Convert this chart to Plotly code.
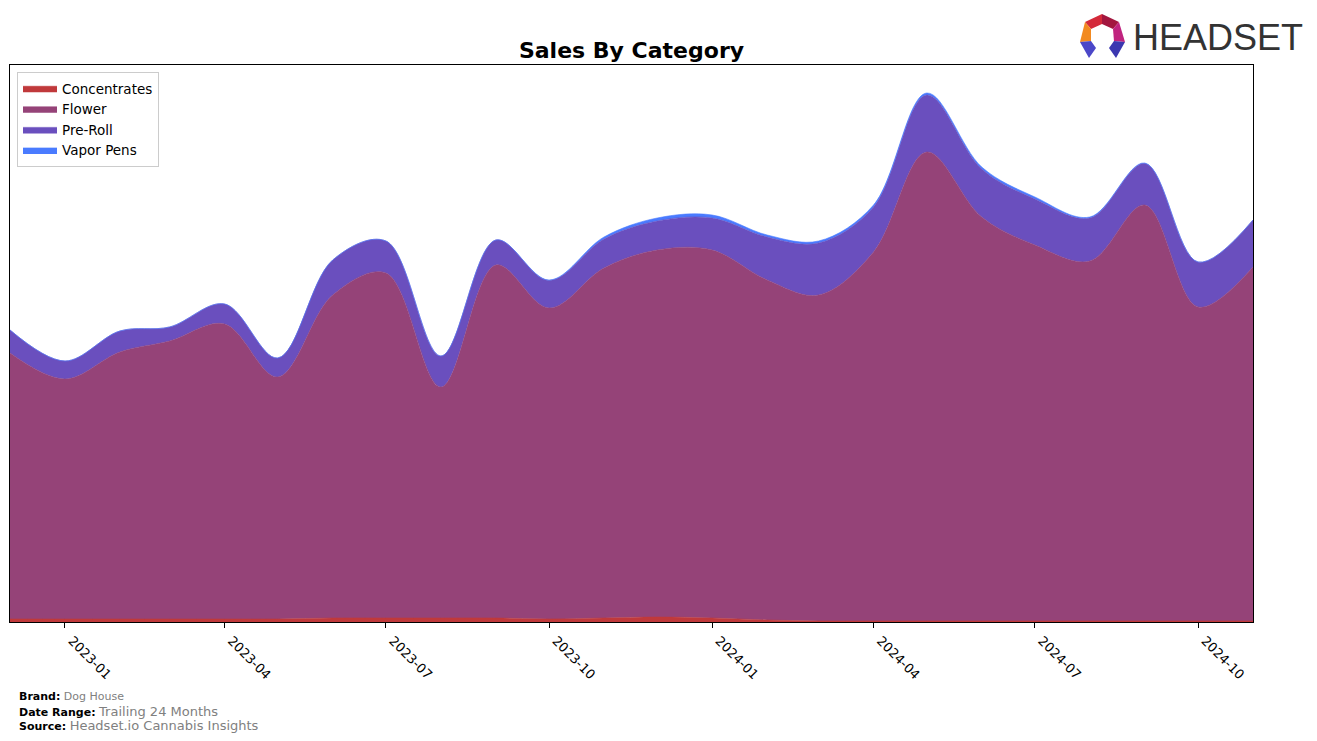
import plotly.graph_objects as go

months = ["2022-12-01", "2023-01-01", "2023-02-01", "2023-03-01", "2023-04-01", "2023-05-01",
          "2023-06-01", "2023-07-01", "2023-08-01", "2023-09-01", "2023-10-01", "2023-11-01",
          "2023-12-01", "2024-01-01", "2024-02-01", "2024-03-01", "2024-04-01", "2024-05-01",
          "2024-06-01", "2024-07-01", "2024-08-01", "2024-09-01", "2024-10-01", "2024-11-01"]

concentrates = [3000, 3000, 3000, 3000, 3000, 3000, 4000, 4000, 4000, 4000, 3000, 4000,
                5000, 4000, 2000, 1000, 1000, 1000, 1000, 1000, 1000, 1000, 1000, 1000]
flower = [266000, 240000, 267000, 278000, 295000, 242000, 323000, 345000, 231000, 353000, 311000, 350000,
          367000, 368000, 340000, 326000, 369000, 469000, 404000, 376000, 360000, 416000, 314000, 354000]
pre_roll = [23000, 18000, 21000, 14000, 20000, 19000, 35000, 32000, 31000, 25000, 27500, 29000,
            29000, 32000, 43000, 52000, 45000, 57000, 48000, 46000, 43000, 41500, 45000, 47000]
vapor_pens = [0, 0, 0, 0, 0, 0, 0, 0, 0, 0, 500, 2000,
              3000, 3000, 2000, 2000, 2000, 2000, 2000, 2000, 1000, 500, 0, 0]

series = [("Concentrates", concentrates, "#c0393b"),
          ("Flower", flower, "#954378"),
          ("Pre-Roll", pre_roll, "#6a4fbe"),
          ("Vapor Pens", vapor_pens, "#4a7bff")]

tick_vals = ["2023-01-01", "2023-04-01", "2023-07-01", "2023-10-01",
             "2024-01-01", "2024-04-01", "2024-07-01", "2024-10-01"]
tick_text = ["2023-01", "2023-04", "2023-07", "2023-10", "2024-01", "2024-04", "2024-07", "2024-10"]

fig = go.Figure()
for name, vals, col in series:
    fig.add_trace(go.Scatter(
        x=months, y=vals, name=name, mode="lines", stackgroup="one",
        line=dict(width=0.6, color=col, shape="spline", smoothing=1.0),
        fillcolor=col, hoverinfo="x+y+name"))

# page has an 8px body margin; figure is placed at (8, 8)
OFF = 8
W, H = 1317 - 2 * OFF, 741 - 2 * OFF
L, R, T, B = 10, 1253, 65, 622  # plot area in page pixels

def px(x):
    return (x - L) / (R - L)

def py(y):
    return (B - y) / (B - T)

fig.update_layout(
    width=W, height=H,
    margin=dict(l=L - OFF, r=W + OFF - R, t=T - OFF, b=H + OFF - B),
    paper_bgcolor="white", plot_bgcolor="white",
    font=dict(family="DejaVu Sans", color="black"),
    title=dict(text="<b>Sales By Category</b>", x=(631.5 - OFF) / W, xanchor="center",
               xref="container", yref="container",
               y=1 - (50 - OFF) / H, yanchor="middle", font=dict(size=22, family="DejaVu Sans")),
    showlegend=True,
    legend=dict(x=px(17), y=py(72), xanchor="left", yanchor="top", traceorder="normal",
                bgcolor="white", bordercolor="#cccccc", borderwidth=1,
                font=dict(size=13.5, family="DejaVu Sans"), itemwidth=34,
                tracegroupgap=0),
    xaxis=dict(range=[months[0], months[-1]], tickvals=tick_vals, ticktext=tick_text,
               tickangle=45, ticks="outside", ticklen=5, tickcolor="black",
               ticklabelshift=7,
               tickfont=dict(size=13, family="DejaVu Sans"),
               showgrid=False, zeroline=False, showline=True, linecolor="black",
               linewidth=1, mirror=True),
    yaxis=dict(range=[0, 557000], showticklabels=False, ticks="", showgrid=False,
               zeroline=False, showline=True, linecolor="black", linewidth=1, mirror=True),
)

# Footer
footer = [
    (696, "Brand:", "Dog House", 11),
    (711, "Date Range:", "Trailing 24 Months", 13),
    (725, "Source:", "Headset.io Cannabis Insights", 13),
]
for y, lab, val, vs in footer:
    fig.add_annotation(
        xref="paper", yref="paper", x=px(17), y=py(y),
        xanchor="left", yanchor="middle", showarrow=False, align="left",
        text=f"<b>{lab}</b> <span style='font-size:{vs}px;color:#808080'>{val}</span>",
        font=dict(size=11, family="DejaVu Sans", color="black"))

# Logo
logo_polys = [
    ([(1085, 22), (1102, 14), (1102, 24), (1091, 29)], "#d42a3a"),
    ([(1102, 14), (1119, 22), (1113, 29), (1102, 24)], "#a3173f"),
    ([(1085, 22), (1091, 29), (1091, 41), (1080, 42)], "#f28a21"),
    ([(1119, 22), (1125, 42), (1114, 41), (1113, 29)], "#c0247f"),
    ([(1080, 42), (1091, 41), (1096, 48), (1089, 58)], "#4b47c8"),
    ([(1125, 42), (1114, 41), (1109, 48), (1116, 58)], "#3b37b0"),
]
for pts, col in logo_polys:
    path = "M " + " L ".join(f"{px(x):.5f},{py(y):.5f}" for x, y in pts) + " Z"
    fig.add_shape(type="path", xref="paper", yref="paper", path=path,
                  fillcolor=col, line=dict(width=0))
fig.add_annotation(xref="paper", yref="paper", x=px(1131), y=py(38), xanchor="left",
                   yanchor="middle", showarrow=False, text="HEADSET",
                   font=dict(size=36, family="Liberation Sans", color="#333333"))

fig.write_html("out.html")
